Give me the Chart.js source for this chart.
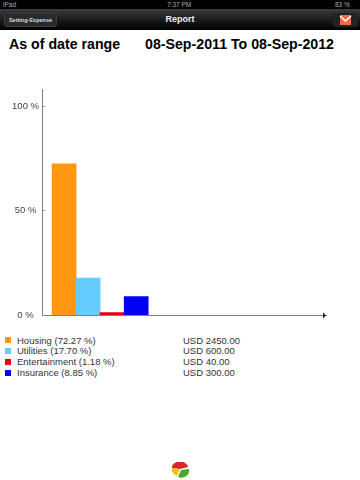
<!DOCTYPE html>
<html>
<head>
<meta charset="utf-8">
<title>Report</title>
<script src="https://cdn.jsdelivr.net/npm/chart.js@4"></script>
<style>
  html, body { margin: 0; padding: 0; background: #fff; }
  body { width: 360px; height: 480px; position: relative; overflow: hidden; font-family: "Liberation Sans", sans-serif; }
  .abs { position: absolute; white-space: nowrap; }
  #status { left: 0; top: 0; width: 360px; height: 9px; background: #000; color: #aaa; font-size: 6.5px; line-height: 9px; }
  #nav { left: 0; top: 9px; width: 360px; height: 21px; background: linear-gradient(#3c3c3c, #1c1c1c 50%, #000); }
  #back { left: 4px; top: 13px; width: 53px; height: 14px; background: #2a2a2a; border: 1px solid #3d3d3d; border-radius: 3px; box-sizing: border-box; color: #ddd; font-size: 5.5px; font-weight: bold; line-height: 12px; text-align: center; }
  #navTitle { left: 0; top: 9px; width: 360px; height: 21px; line-height: 21px; text-align: center; color: #eee; font-size: 9px; font-weight: bold; }
  #mailBtn { left: 333px; top: 13px; width: 25px; height: 14px; background: #222; border-radius: 3px; }
  .title { top: 36px; font-size: 14.2px; line-height: 17px; font-weight: bold; color: #000; }
  #chartBox { left: 0; top: 80px; width: 360px; height: 250px; }
  .row { font-size: 9.5px; line-height: 11px; color: #333; }
  .swatch { width: 6px; height: 6px; }
</style>
</head>
<body>
<div class="abs" id="status"><span class="abs" style="left:3px">iPad</span><span class="abs" style="left:167px">7:37 PM</span><span class="abs" style="left:335px">83 %</span></div>
<div class="abs" id="nav"></div>
<div class="abs" id="back">Setting-Expense</div>
<div class="abs" id="navTitle">Report</div>
<div class="abs" id="mailBtn">
  <svg width="25" height="14"><rect x="7" y="2" width="11" height="10" fill="#f4694a"/><path d="M7 3 L12.5 8 L18 3" fill="none" stroke="#fff" stroke-width="1.5"/></svg>
</div>
<div class="abs title" style="left:9px">As of date range</div>
<div class="abs title" style="left:145px">08-Sep-2011 To 08-Sep-2012</div>
<div class="abs" id="chartBox"><canvas id="report_chart" width="360" height="250"></canvas></div>
<div id="legend"></div>
<svg class="abs" style="left:171px;top:462px" width="19" height="16">
  <path d="M9 7 L1 6 A8 6 0 0 1 17 5 Z" fill="#d8252a"/>
  <path d="M9 7 L1 6 A8 7 0 0 0 6 14 Z" fill="#f2c01e"/>
  <path d="M10 8 L18 7 A8 7 0 0 1 7 15 Z" fill="#4aa82e"/>
</svg>
<script>
const categories = ['Housing', 'Utilities', 'Entertainment', 'Insurance'];
const percentValues = [72.27, 17.70, 1.18, 8.85];
const amounts = ['USD 2450.00', 'USD 600.00', 'USD 40.00', 'USD 300.00'];
const barColors = ['#ff9712', '#66ccff', '#e8000f', '#0000f5'];
const tickValues = [0, 50, 100];

const axisColor = '#808080';

// legend under the chart
const legend = document.getElementById('legend');
categories.forEach(function (name, i) {
    const top = 334.5 + i * 10.85;
    legend.innerHTML +=
        '<div class="abs swatch" style="left:5px;top:' + (top + 2.5) + 'px;background:' + barColors[i] + '"></div>' +
        '<div class="abs row" style="left:17px;top:' + top + 'px">' + name + ' (' + percentValues[i].toFixed(2) + ' %)</div>' +
        '<div class="abs row" style="left:183px;top:' + top + 'px">' + amounts[i] + '</div>';
});

// arrow head on the x axis and the little ticks on the y axis
const axisMarks = {
    id: 'axisMarks',
    afterDraw: function (chart) {
        const ctx = chart.ctx;
        const area = chart.chartArea;
        ctx.save();
        ctx.fillStyle = '#222';
        ctx.beginPath();
        ctx.moveTo(area.right, area.bottom + 0.5);
        ctx.lineTo(area.right - 3, area.bottom - 2.5);
        ctx.lineTo(area.right - 3, area.bottom + 3.5);
        ctx.closePath();
        ctx.fill();
        ctx.strokeStyle = axisColor;
        tickValues.forEach(function (v) {
            const y = Math.round(chart.scales.y.getPixelForValue(v)) + 0.5;
            ctx.beginPath();
            ctx.moveTo(area.left, y);
            ctx.lineTo(area.left + 2, y);
            ctx.stroke();
        });
        ctx.restore();
    }
};

new Chart(document.getElementById('report_chart'), {
    type: 'bar',
    data: {
        datasets: [{
            data: percentValues.map(function (v, i) { return { x: i, y: v }; }),
            backgroundColor: barColors,
            barPercentage: 1,
            categoryPercentage: 1
        }]
    },
    options: {
        responsive: false,
        animation: false,
        layout: { padding: { top: 8, right: 34, bottom: 14, left: 0 } },
        plugins: { legend: { display: false }, tooltip: { enabled: false } },
        scales: {
            x: {
                type: 'linear',
                offset: false,
                min: -0.9,
                max: 10.9,
                grid: { display: false, offset: false },
                border: { color: axisColor, width: 1 },
                ticks: { display: false },
                afterFit: function (scale) { scale.height = 1; }
            },
            y: {
                min: 0,
                max: 108,
                grid: { display: false, drawTicks: false },
                border: { color: axisColor, width: 1 },
                afterFit: function (scale) { scale.width = 42.5; },
                afterBuildTicks: function (scale) {
                    scale.ticks = tickValues.map(function (v) { return { value: v }; });
                },
                ticks: {
                    color: '#444',
                    padding: 3.5,
                    crossAlign: 'center',
                    font: { family: 'Liberation Sans', size: 9.5 },
                    callback: function (v) { return v + ' %'; }
                }
            }
        }
    },
    plugins: [axisMarks]
});
</script>
</body>
</html>
